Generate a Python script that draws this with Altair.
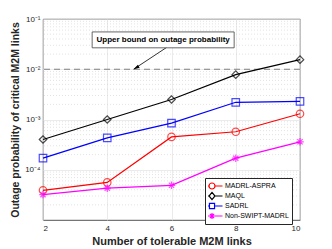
import altair as alt
import pandas as pd

# ---- data ----
x_links = [2, 4, 6, 8, 10]
madrl_aspra = [3.9e-5, 5.6e-5, 4.5e-4, 5.7e-4, 1.3e-3]
maql = [4.0e-4, 1.0e-3, 2.5e-3, 7.8e-3, 1.55e-2]
sadrl = [1.7e-4, 4.3e-4, 8.5e-4, 2.2e-3, 2.3e-3]
non_swipt = [3.2e-5, 4.3e-5, 4.9e-5, 1.7e-4, 3.6e-4]
series_names = ["MADRL-ASPRA", "MAQL", "SADRL", "Non-SWIPT-MADRL"]
series_colors = ["#ff0000", "#000000", "#0000ff", "#ff00ff"]
x_ticks = [2, 3, 4, 5, 6, 7, 8, 9, 10]
y_ticks = [1e-4, 1e-3, 1e-2, 1e-1]
upper_bound = [1e-2]
annot_text = ["Upper bound on outage probability"]
annot_box_x = [3.53, 7.95]
annot_box_y = [0.0267, 0.0553]
annot_text_pos = [5.74, 0.0384]
arrow_from = [5.86, 0.0275]
arrow_to = [4.82, 1e-2]

# ---- tables ----
rows = []
for name, vals in zip(series_names, [madrl_aspra, maql, sadrl, non_swipt]):
    for xv, yv in zip(x_links, vals):
        rows.append({"x": xv, "y": yv, "series": name, "series_l": name})
df = pd.DataFrame(rows)

minor = []
for e in range(-5, -1):
    for k in range(2, 10):
        minor.append({"y": k * 10.0 ** e})
minor_df = pd.DataFrame(minor)

xs = alt.Scale(domain=[2, 10], nice=False, zero=False)
ys = alt.Scale(type="log", domain=[1e-5, 1e-1], nice=False)

asterisk = "M-1,0L1,0M0,-1L0,1M-0.7,-0.7L0.7,0.7M-0.7,0.7L0.7,-0.7"
marker_shapes = ["circle", "diamond", "square", asterisk]
legend_shapes = [
    "M-1,0A1,1 0 1,1 1,0A1,1 0 1,1 -1,0M-3.5,0L-1,0M1,0L3.5,0",
    "M0,-1.2L1,0L0,1.2L-1,0ZM-3.5,0L-1,0M1,0L3.5,0",
    "M-0.85,-0.85L0.85,-0.85L0.85,0.85L-0.85,0.85ZM-3.5,0L-0.85,0M0.85,0L3.5,0",
    asterisk + "M-3.5,0L3.5,0",
]

y_label_expr = ("datum.value >= 0.05 ? '10⁻¹' : datum.value >= 0.005 ? '10⁻²' : "
                "datum.value >= 0.0005 ? '10⁻³' : '10⁻⁴'")

base = alt.Chart(df)

minor_grid = alt.Chart(minor_df).mark_rule(
    color="#d0d0d0", strokeDash=[1, 2], strokeWidth=0.6
).encode(y=alt.Y("y:Q", scale=ys))

lines = base.mark_line(strokeWidth=1.2).encode(
    x=alt.X("x:Q", scale=xs,
            axis=alt.Axis(values=x_ticks, title="Number of tolerable M2M links",
                          grid=True)),
    y=alt.Y("y:Q", scale=ys,
            axis=alt.Axis(values=y_ticks, labelExpr=y_label_expr,
                          title="Outage probability of critical M2M links",
                          grid=True)),
    color=alt.Color("series:N", scale=alt.Scale(domain=series_names, range=series_colors),
                    legend=None),
)

points = base.mark_point(filled=False, strokeWidth=1.2, size=56).encode(
    x=alt.X("x:Q", scale=xs),
    y=alt.Y("y:Q", scale=ys),
    stroke=alt.Stroke("series:N", scale=alt.Scale(domain=series_names, range=series_colors),
                      legend=None),
    shape=alt.Shape("series:N", scale=alt.Scale(domain=series_names, range=marker_shapes),
                    legend=None),
)

leg = dict(title=None, orient="none", legendX=162, legendY=159,
           fillColor="white", strokeColor="#262626",
           padding=3, rowPadding=0, labelOffset=9, clipHeight=10,
           symbolSize=36, symbolStrokeWidth=1.2,
           symbolOpacity=1, symbolFillColor="transparent",
           labelFontSize=7, labelFont="Liberation Sans",
           labelColor="#000000", labelLimit=0)

legend_layer = base.mark_point(filled=False, opacity=0, size=36).encode(
    x=alt.X("x:Q", scale=xs),
    y=alt.Y("y:Q", scale=ys),
    stroke=alt.Stroke("series_l:N",
                      scale=alt.Scale(domain=series_names, range=series_colors),
                      legend=alt.Legend(**leg)),
    shape=alt.Shape("series_l:N", scale=alt.Scale(domain=series_names, range=legend_shapes),
                    legend=alt.Legend(**leg)),
)

bound = alt.Chart(pd.DataFrame({"y": upper_bound})).mark_rule(
    color="#808080", strokeDash=[6, 4], strokeWidth=1.2
).encode(y=alt.Y("y:Q", scale=ys))

box_df = pd.DataFrame({"x": [annot_box_x[0]], "x2": [annot_box_x[1]],
                       "y": [annot_box_y[0]], "y2": [annot_box_y[1]],
                       "tx": [annot_text_pos[0]], "ty": [annot_text_pos[1]],
                       "label": annot_text})
box = alt.Chart(box_df).mark_rect(fill="white", stroke="#404040", strokeWidth=0.8).encode(
    x=alt.X("x:Q", scale=xs), x2="x2:Q", y=alt.Y("y:Q", scale=ys), y2="y2:Q")
box_text = alt.Chart(box_df).mark_text(
    font="Liberation Sans", fontWeight="bold", fontSize=8, color="#000000"
).encode(x=alt.X("tx:Q", scale=xs), y=alt.Y("ty:Q", scale=ys), text="label:N")

arrow_df = pd.DataFrame({"x": [arrow_from[0]], "y": [arrow_from[1]],
                         "x2": [arrow_to[0]], "y2": [arrow_to[1]]})
arrow_line = alt.Chart(arrow_df).mark_rule(color="#000000", strokeWidth=0.8).encode(
    x=alt.X("x:Q", scale=xs), y=alt.Y("y:Q", scale=ys), x2="x2:Q", y2="y2:Q")
arrow_head = alt.Chart(arrow_df).mark_point(
    shape="M0,0L-0.6,2L0.6,2Z", filled=True, color="#000000", size=36, angle=239.5,
    opacity=1
).encode(x=alt.X("x2:Q", scale=xs), y=alt.Y("y2:Q", scale=ys))

chart = alt.layer(
    minor_grid, bound, lines, points, legend_layer, arrow_line, arrow_head, box, box_text
).resolve_scale(stroke="independent", shape="independent").properties(
    width=257, height=201,
    autosize=alt.AutoSizeParams(type="none"),
    padding={"left": 35, "top": 11, "right": 20, "bottom": 30},
).configure_view(
    stroke="#262626", strokeWidth=0.8
).configure_axis(
    domain=False, ticks=False, gridColor="#e3e3e3", gridWidth=0.7,
    labelFont="Liberation Sans", labelFontSize=8, labelColor="#262626",
    titleFont="Liberation Sans", titleFontWeight="bold", titleColor="#262626",
).configure_axisX(
    labelPadding=4, titleFontSize=11, titlePadding=3
).configure_axisY(
    labelPadding=3, titleFontSize=10.5, titlePadding=4
)

chart.save("out.html", embed_options={"renderer": "svg", "actions": False})
